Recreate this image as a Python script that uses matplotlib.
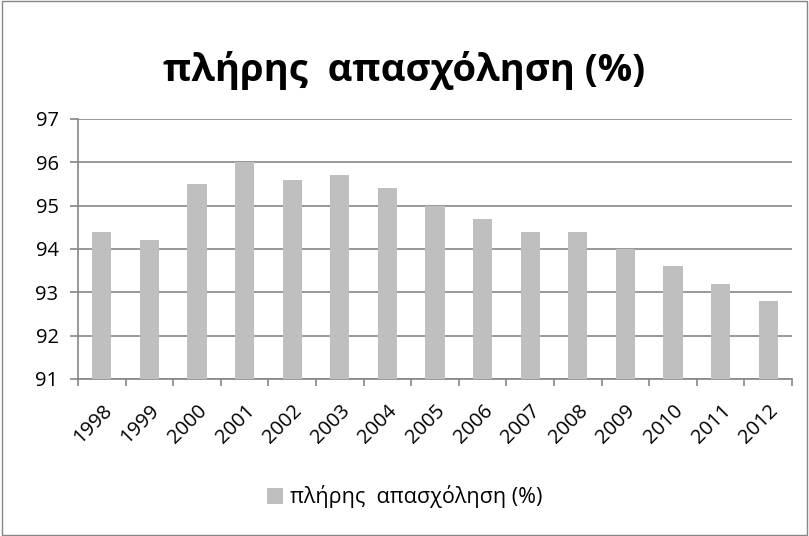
import matplotlib
matplotlib.use("Agg")
import matplotlib.pyplot as plt
import numpy as np
from matplotlib.patches import Rectangle

years = ["1998", "1999", "2000", "2001", "2002", "2003", "2004", "2005",
         "2006", "2007", "2008", "2009", "2010", "2011", "2012"]
values = [94.4, 94.2, 95.5, 96.0, 95.6, 95.7, 95.4, 95.0,
          94.7, 94.4, 94.4, 94.0, 93.6, 93.2, 92.8]
series_name = "πλήρης  απασχόληση (%)"

plt.rcParams['font.family'] = ['Open Sans', 'DejaVu Sans']

fig = plt.figure(figsize=(8.09, 5.36), dpi=100)
ax = fig.add_axes([0.0964, 0.293, 0.8826, 0.485])

x = np.arange(len(years))
ax.bar(x, values, width=0.4, color="#bfbfbf", label=series_name, zorder=3)

ax.set_ylim(91, 97)
ax.set_yticks(range(91, 98))
ax.set_xlim(-0.5, len(years) - 0.5)
ax.set_xticks(x)
ax.set_xticklabels(years, rotation=45, ha="right", rotation_mode="anchor")
ax.set_xticks(np.arange(-0.5, len(years)), minor=True)
ax.tick_params(axis="x", which="major", length=0, labelsize=14.5, pad=16)
ax.tick_params(axis="x", which="minor", length=5, color="#868686", width=1.2)
ax.tick_params(axis="y", length=6, color="#868686", width=1.2, labelsize=14.5, pad=8)

ax.grid(axis="y", color="#868686", linewidth=1.2, zorder=0)
for s in ["top", "right"]:
    ax.spines[s].set_visible(False)
ax.spines["left"].set_color("#868686")
ax.spines["bottom"].set_color("#868686")
ax.spines["left"].set_linewidth(1.2)
ax.spines["bottom"].set_linewidth(1.2)

fig.text(0.5, 0.868, "πλήρης  απασχόληση (%)", ha="center", va="center",
         fontsize=27.5, fontweight="bold")

fig.legend(loc="center", bbox_to_anchor=(0.5, 0.073), frameon=False,
           fontsize=15.5, handlelength=0.75, handleheight=0.75, handletextpad=0.3)

fig.patches.append(Rectangle((0.002, 0.002), 0.996, 0.996, transform=fig.transFigure,
                             fill=False, edgecolor="#868686", linewidth=1))

fig.savefig("out.png", dpi=100)
